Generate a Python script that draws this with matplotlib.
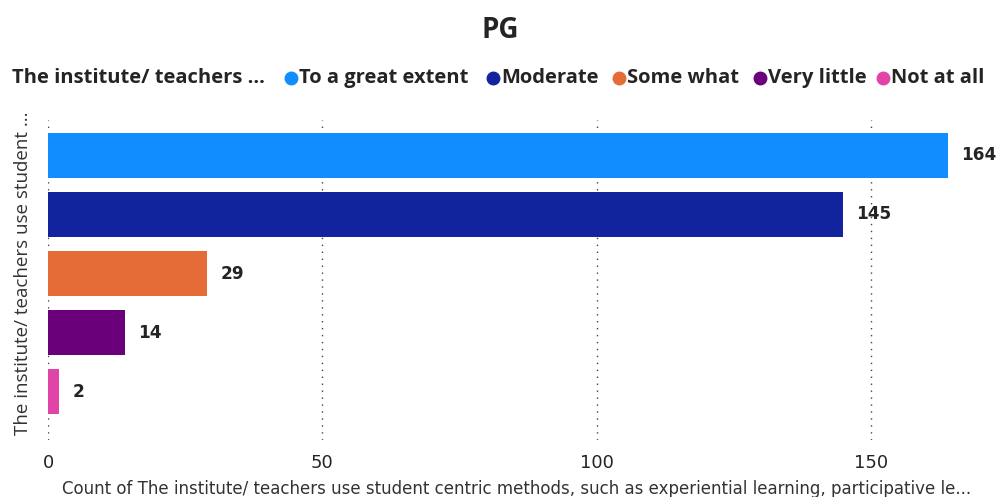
import matplotlib
matplotlib.use("Agg")
import matplotlib.pyplot as plt
from matplotlib.lines import Line2D

# data
categories = ["To a great extent", "Moderate", "Some what", "Very little", "Not at all"]
counts = [164, 145, 29, 14, 2]
colors = ["#118DFF", "#12239E", "#E66C37", "#6B007B", "#E044A7"]
xticks = [0, 50, 100, 150]

W, H = 1000, 497
fig = plt.figure(figsize=(W / 100, H / 100), dpi=100)
fig.patch.set_facecolor("white")

# axes in pixel terms: left 48, right 986, top 120, bottom 440
ax = fig.add_axes([48 / W, 1 - 440 / H, (986 - 48) / W, (440 - 120) / H])

y = list(range(len(categories)))
ax.barh(y, counts, height=0.77, color=colors, zorder=2)
for yi, v in zip(y, counts):
    ax.text(v + 2.4, yi, str(v), va="center", ha="left", fontsize=12.2,
            fontweight="bold", color="#252423")

ax.set_xlim(0, 171)
ax.set_ylim(4.82, -0.6)
ax.set_yticks([])
ax.set_xticks(xticks)
ax.set_xticklabels([str(t) for t in xticks], fontsize=13, color="#252423")
ax.tick_params(axis="x", length=0, pad=10)
for s in ax.spines.values():
    s.set_visible(False)
for t in xticks:
    ax.axvline(t, linestyle=(0, (1, 4)), color="#444444", linewidth=1.0, zorder=0)

ax.set_xlabel("Count of The institute/ teachers use student centric methods, such as experiential learning, participative le...",
              fontsize=12, color="#333333")
ax.xaxis.set_label_coords(0.5, -0.125)
ax.set_ylabel("The institute/ teachers use student ...", fontsize=13.5,
              color="#333333", family=["Open Sans", "DejaVu Sans"])
ax.yaxis.set_label_coords(-0.017, 0.52)

# title
fig.text(0.5, 1 - 31 / H, "PG", ha="center", va="center", fontsize=20,
         fontweight="bold", color="#252423", family=["Open Sans", "DejaVu Sans"])

# legend row
fig.text(12 / W, 1 - 78 / H, "The institute/ teachers ...", ha="left", va="center",
         fontsize=14.5, fontweight="bold", color="#252423",
         family=["Open Sans", "DejaVu Sans"])
marker_x = [291, 493, 619, 760, 883]
for mx, c, lab in zip(marker_x, colors, categories):
    fig.add_artist(Line2D([mx / W], [1 - 78 / H], marker="o", markersize=9,
                          color=c, linestyle="none", transform=fig.transFigure))
    fig.text((mx + 8) / W, 1 - 78 / H, lab, ha="left", va="center",
             fontsize=14.5, fontweight="bold", color="#252423",
             family=["Open Sans", "DejaVu Sans"])

fig.savefig("out.png", dpi=100)
